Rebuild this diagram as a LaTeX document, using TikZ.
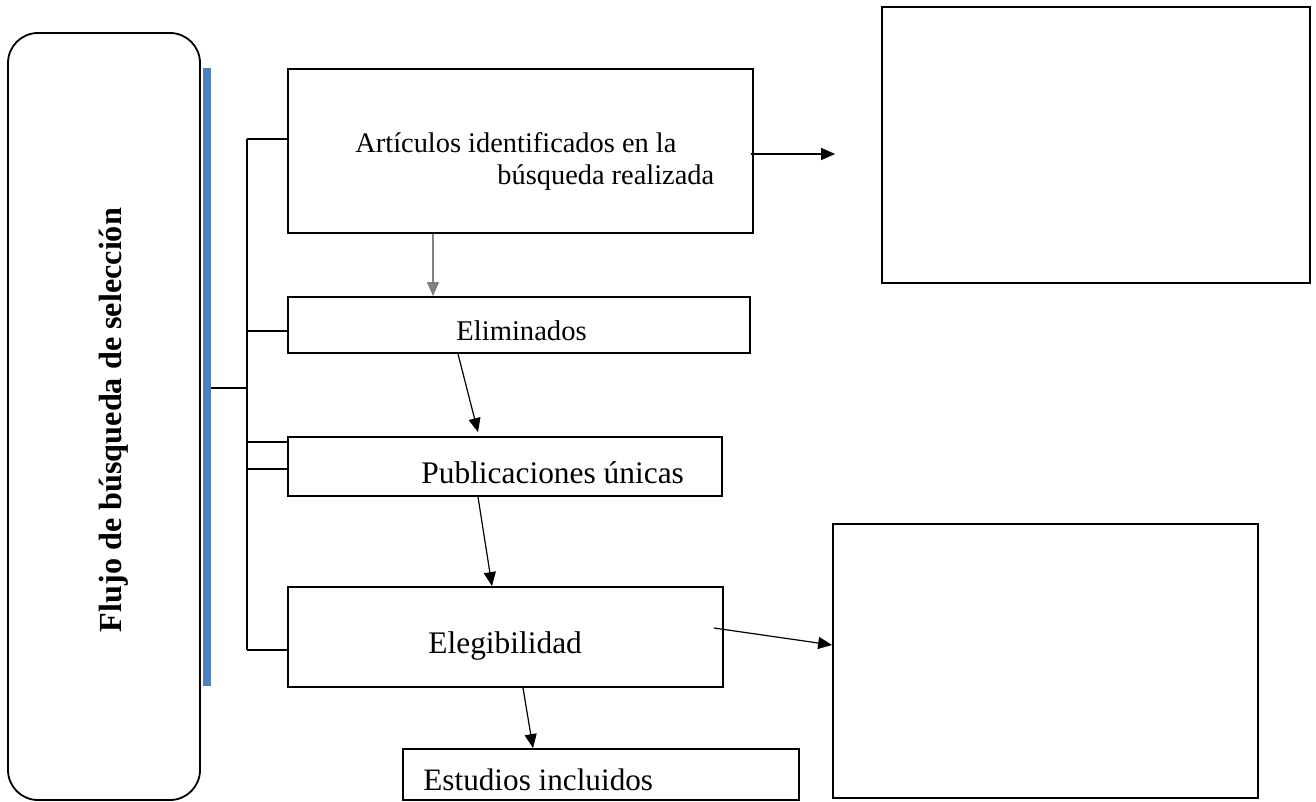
\documentclass[tikz,border=0pt]{standalone}
\usepackage{fontspec}
\setmainfont{Liberation Serif}
\usetikzlibrary{arrows.meta}
\definecolor{barblue}{RGB}{79,129,189}

\begin{document}
\begin{tikzpicture}[x=0.5pt,y=-0.5pt,
    box/.style={draw,line width=0.9pt,inner sep=0pt},
    txt/.style={inner sep=0pt,anchor=base west},
    link/.style={line width=0.6pt},
    arr/.style={line width=0.6pt,-{Triangle[length=7pt,width=6pt]}}]
  \useasboundingbox (0,0) rectangle (1316,802);

  % left frame with the title
  \node[box,rounded corners=15pt,minimum width=96pt,minimum height=383.5pt] (frame) at (104,416.5) {};
  \node[rotate=90,font=\fontsize{16.1}{19}\selectfont\bfseries] (title) at (114,420) {Flujo de búsqueda de selección};
  \node[fill=barblue,inner sep=0pt,minimum width=4pt,minimum height=309pt] (bar) at (207,377) {};

  % boxes
  \node[box,minimum width=232.5pt,minimum height=82pt] (artic) at (520.5,151) {};
  \node[box,minimum width=231pt,minimum height=28pt] (elim) at (519,325) {};
  \node[box,minimum width=217pt,minimum height=29.5pt] (publ) at (505,466.5) {};
  \node[box,minimum width=217.5pt,minimum height=50pt] (eleg) at (505.5,637) {};
  \node[box,minimum width=198pt,minimum height=25.5pt] (estud) at (601,774.5) {};
  \node[box,minimum width=214pt,minimum height=138pt] (res1) at (1096,145) {};
  \node[box,minimum width=212.5pt,minimum height=137pt] (res2) at (1045.5,661) {};

  % texts
  \node[txt,align=left,font=\fontsize{14.2}{16.5}\selectfont] (articT) at (355,185)
    {Artículos identificados en la\\\hspace*{71pt}búsqueda realizada};
  \node[txt,font=\fontsize{14.3}{17}\selectfont] (elimT) at (456,340) {Eliminados};
  \node[txt,font=\fontsize{15.7}{19}\selectfont] (publT) at (421,483) {Publicaciones únicas};
  \node[txt,font=\fontsize{15.7}{19}\selectfont] (elegT) at (428,653) {Elegibilidad};
  \node[txt,font=\fontsize{15.6}{19}\selectfont] (estudT) at (423,790) {Estudios incluidos};

  % bracket
  \coordinate (jtop) at (247,139);
  \coordinate (jbot) at (247,650);
  \draw[link] (jtop) -- (jbot);
  \draw[link] ([yshift=-5.5pt]bar.east) -- ([yshift=-5.5pt]bar.east -| jtop);
  \draw[link] (jtop) -- (jtop -| artic.west);
  \draw[link] ([yshift=-3pt]elim.west) -- ([yshift=-3pt]elim.west -| jtop);
  \draw[link] ([yshift=12.25pt]publ.west) -- ([yshift=12.25pt]publ.west -| jtop);
  \draw[link] ([yshift=-1.25pt]publ.west) -- ([yshift=-1.25pt]publ.west -| jtop);
  \draw[link] (jbot) -- (jbot -| eleg.west);

  % arrows
  \draw[arr,draw=gray] ([xshift=-43.75pt]artic.south) -- ([xshift=-43pt]elim.north);
  \draw[arr] ([xshift=-1.5pt,yshift=-1.5pt]artic.east) -- ([xshift=-23pt,yshift=-4.5pt]res1.west);
  \draw[arr] ([xshift=-30.5pt]elim.south) -- ([xshift=-13.5pt,yshift=2pt]publ.north);
  \draw[arr] ([xshift=-13.5pt]publ.south) -- ([xshift=-6.75pt]eleg.north);
  \draw[arr] ([xshift=-5pt,yshift=4.5pt]eleg.east) -- ([yshift=8pt]res2.west);
  \draw[arr] ([xshift=8.75pt]eleg.south) -- ([xshift=-34pt]estud.north);
\end{tikzpicture}
\end{document}
